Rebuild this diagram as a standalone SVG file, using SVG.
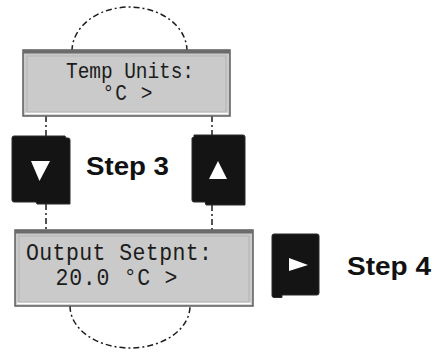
<svg xmlns="http://www.w3.org/2000/svg" width="442" height="352" viewBox="0 0 442 352">
<style>
.lcd{fill:#cacaca;stroke:#5c5c5c;stroke-width:1.5}
.lcdtop{fill:#6b6b6b}
.lcdin{fill:none;stroke:#b3b3b3;stroke-width:1}
.hl{stroke:#ffffff;stroke-width:1.5}
.mono{font-family:"Courier New","Nimbus Mono PS","Nimbus Mono L","FreeMono","Liberation Mono",monospace;fill:#1c1c1c}
.btn{fill:#141414;stroke:#2a2a2a;stroke-width:1}
.glyph{fill:#ffffff}
.step{font-family:"Liberation Sans",Arial,sans-serif;font-weight:bold;font-size:25px;fill:#111}
.conn{fill:none;stroke:#1c1c1c;stroke-width:1.5;stroke-dasharray:6 3 2 3}
</style>
<rect width="442" height="352" fill="#ffffff"/>
<g id="connectors">
<path class="conn" d="M72,51 A57.5,44 0 0 1 187,51"/>
<path class="conn" d="M70,306 A60,42 0 0 0 190,306"/>
<path class="conn" d="M46,116 L46,136"/>
<path class="conn" d="M212,116 L212,135"/>
<path class="conn" d="M46,204 L46,231"/>
<path class="conn" d="M212,205 L212,231"/>
</g>
<g id="temp-units">
<rect class="lcd" x="23" y="50" width="207" height="66"/>
<rect class="lcdtop" x="23" y="50" width="207" height="3.5"/>
<rect class="lcdin" x="27" y="56" width="199" height="56"/>
<line class="hl" x1="25" y1="113.5" x2="228" y2="113.5"/>
<text class="mono" font-size="19.5" transform="translate(66,78) scale(1,1.12)" textLength="128" lengthAdjust="spacing">Temp Units:</text>
<text class="mono" font-size="19.5" transform="translate(102.5,100) scale(1,1.12)" textLength="50" lengthAdjust="spacing">°C &gt;</text>
</g>
<g id="btn-down">
<path class="btn" d="M12,138 Q12,136 14,136 L65,136 L66,138 L68,138 Q70,138 70,140 L70,204 L37,204 L36,202 L14,202 Q12,202 12,200 Z"/>
<polygon class="glyph" points="31,161 50,161 39.5,181"/>
</g>
<g id="btn-up">
<path class="btn" d="M194,135 L243,135 Q245,135 245,137 L245,205 L206,205 L205,202 L194,202 Q192,202 192,200 L192,138 L194,137 Z"/>
<polygon class="glyph" points="218,161 227,179 209,179"/>
</g>
<g id="step3">
<text class="step" x="86" y="175" textLength="83" lengthAdjust="spacingAndGlyphs">Step 3</text>
</g>
<g id="output-setpnt">
<rect class="lcd" x="15" y="230" width="238" height="76"/>
<rect class="lcdtop" x="15" y="230" width="238" height="3.5"/>
<rect class="lcdin" x="19" y="236" width="230" height="66"/>
<line class="hl" x1="17" y1="303.5" x2="251" y2="303.5"/>
<text class="mono" font-size="21.5" transform="translate(26,260) scale(1,1.08)" textLength="186" lengthAdjust="spacing">Output Setpnt:</text>
<text class="mono" font-size="21.5" transform="translate(55.5,285) scale(1,1.08)" textLength="122" lengthAdjust="spacing">20.0 °C &gt;</text>
</g>
<g id="btn-right">
<path class="btn" d="M274,234 L317,234 Q319,234 319,236 L319,293 Q319,295 317,295 L282,295 L282,297.5 L274,297.5 Q272,297.5 272,295.5 L272,236 Q272,234 274,234 Z"/>
<polygon class="glyph" points="289,258 308,265 289,271"/>
</g>
<g id="step4">
<text class="step" x="347" y="275" textLength="84" lengthAdjust="spacingAndGlyphs">Step 4</text>
</g>
</svg>
